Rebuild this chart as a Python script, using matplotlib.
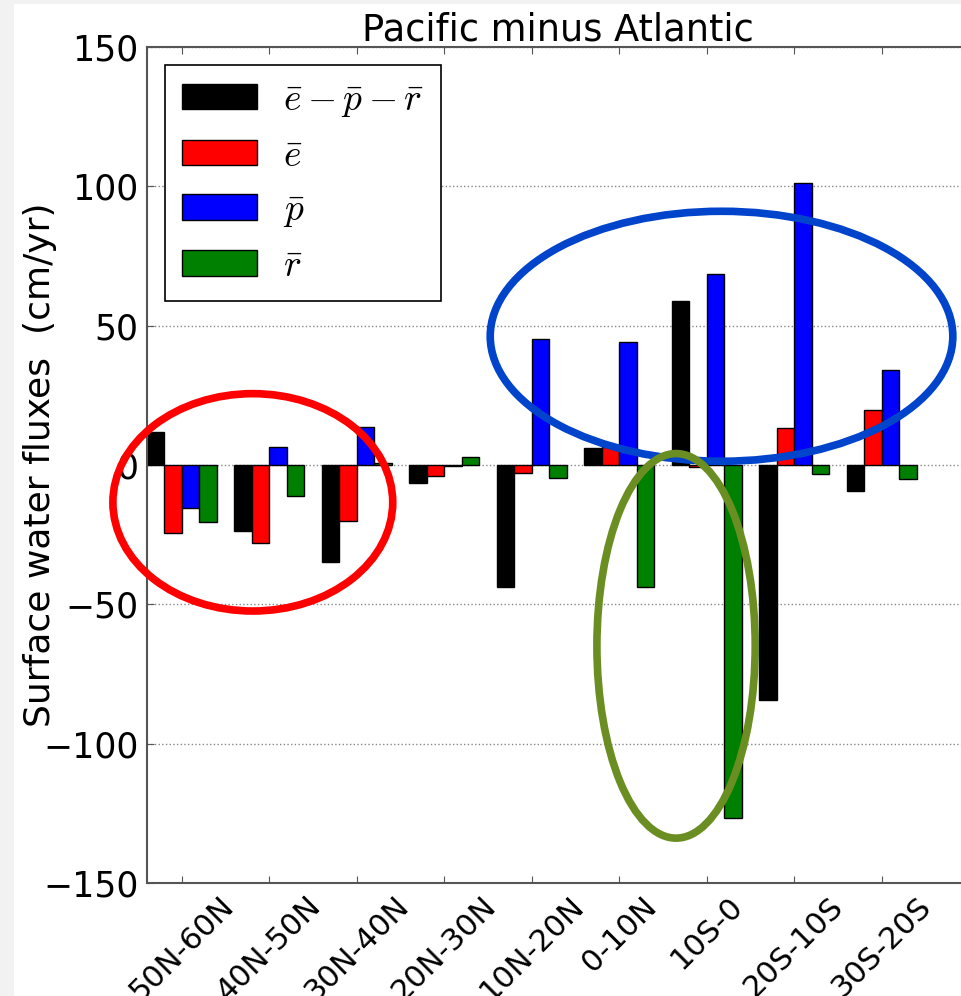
import numpy as np
import matplotlib
matplotlib.use('Agg')
import matplotlib.pyplot as plt
from matplotlib.patches import Ellipse, Rectangle

plt.rcParams['mathtext.fontset'] = 'cm'
plt.rcParams['font.family'] = 'DejaVu Sans'

# latitude bands, north to south
regions = ['50N-60N', '40N-50N', '30N-40N', '20N-30N', '10N-20N',
           '0-10N', '10S-0', '20S-10S', '30S-20S']
# pacific minus atlantic, cm/yr
e_p_r = [11.8, -23.8, -34.8, -6.6, -43.9, 6.0, 58.7, -84.4, -9.2]
evap = [-24.4, -27.9, -20.2, -3.9, -2.7, 6.3, -0.6, 13.2, 19.6]
precip = [-15.6, 6.3, 13.6, -0.2, 45.1, 44.0, 68.5, 101.1, 34.0]
runoff = [-20.6, -11.1, 0.8, 2.7, -4.5, -43.8, -126.7, -3.1, -5.2]

# hand drawn highlight rings (centre x, centre y, width, height, colour)
rings = [(0.81, -13.4, 3.20, 78.0, '#ff0000'),
         (6.17, 46.2, 5.29, 89.7, '#0044cc'),
         (5.65, -64.9, 1.81, 138.0, '#6b8e23')]

fig = plt.figure(figsize=(9.61, 9.96), dpi=100)
fig.patch.set_facecolor('#f2f2f2')
fig.patches.append(Rectangle((14/961, 0), 1, 1 - 4/996, transform=fig.transFigure,
                             facecolor='white', edgecolor='none', zorder=-10))

ax = fig.add_axes([147/961, 113/996, 822/961, 836/996])
x = np.arange(len(regions))
w = 0.2
series = [(e_p_r, 'black', r'$\bar{e} - \bar{p} - \bar{r}$'),
          (evap, 'red', r'$\bar{e}$'),
          (precip, 'blue', r'$\bar{p}$'),
          (runoff, 'green', r'$\bar{r}$')]
for k, (vals, col, lab) in enumerate(series):
    ax.bar(x - 0.4 + k * w, vals, w, align='edge', color=col,
           edgecolor='black', linewidth=1, label=lab, zorder=2)

for cx, cy, ew, eh, col in rings:
    ax.add_patch(Ellipse((cx, cy), ew, eh, fill=False, edgecolor=col,
                         linewidth=5.5, zorder=5, clip_on=False))

ax.set_xlim(-0.4, 9.0)
ax.set_ylim(-150, 150)
ax.set_yticks([-150, -100, -50, 0, 50, 100, 150])
ax.set_yticklabels(['\u2212150', '\u2212100', '\u221250', '0', '50', '100', '150'])
ax.set_xticks(x)
ax.set_xticklabels(regions, rotation=45, fontsize=22)
ax.tick_params(axis='y', labelsize=25)
ax.tick_params(direction='in', length=5, top=True, right=True, color='#555555', pad=6)
ax.yaxis.grid(True, linestyle=':', color='#888888', linewidth=1, zorder=0)
ax.set_axisbelow(True)
for s in ax.spines.values():
    s.set_color('#555555')
    s.set_linewidth(1.5)

ax.set_title('Pacific minus Atlantic', fontsize=26.5, pad=5)
ax.set_ylabel('Surface water fluxes  (cm/yr)', fontsize=26)
ax.yaxis.set_label_coords(-0.109, 0.5)

leg = ax.legend(loc='upper left', fontsize=27, fancybox=False, framealpha=1,
                edgecolor='black', handlelength=2.0, handleheight=0.67,
                handletextpad=0.7, labelspacing=0.5, borderpad=0.45,
                borderaxespad=0.48)
leg.get_frame().set_linewidth(1.2)

fig.savefig('out.png', dpi=100, facecolor=fig.get_facecolor())
